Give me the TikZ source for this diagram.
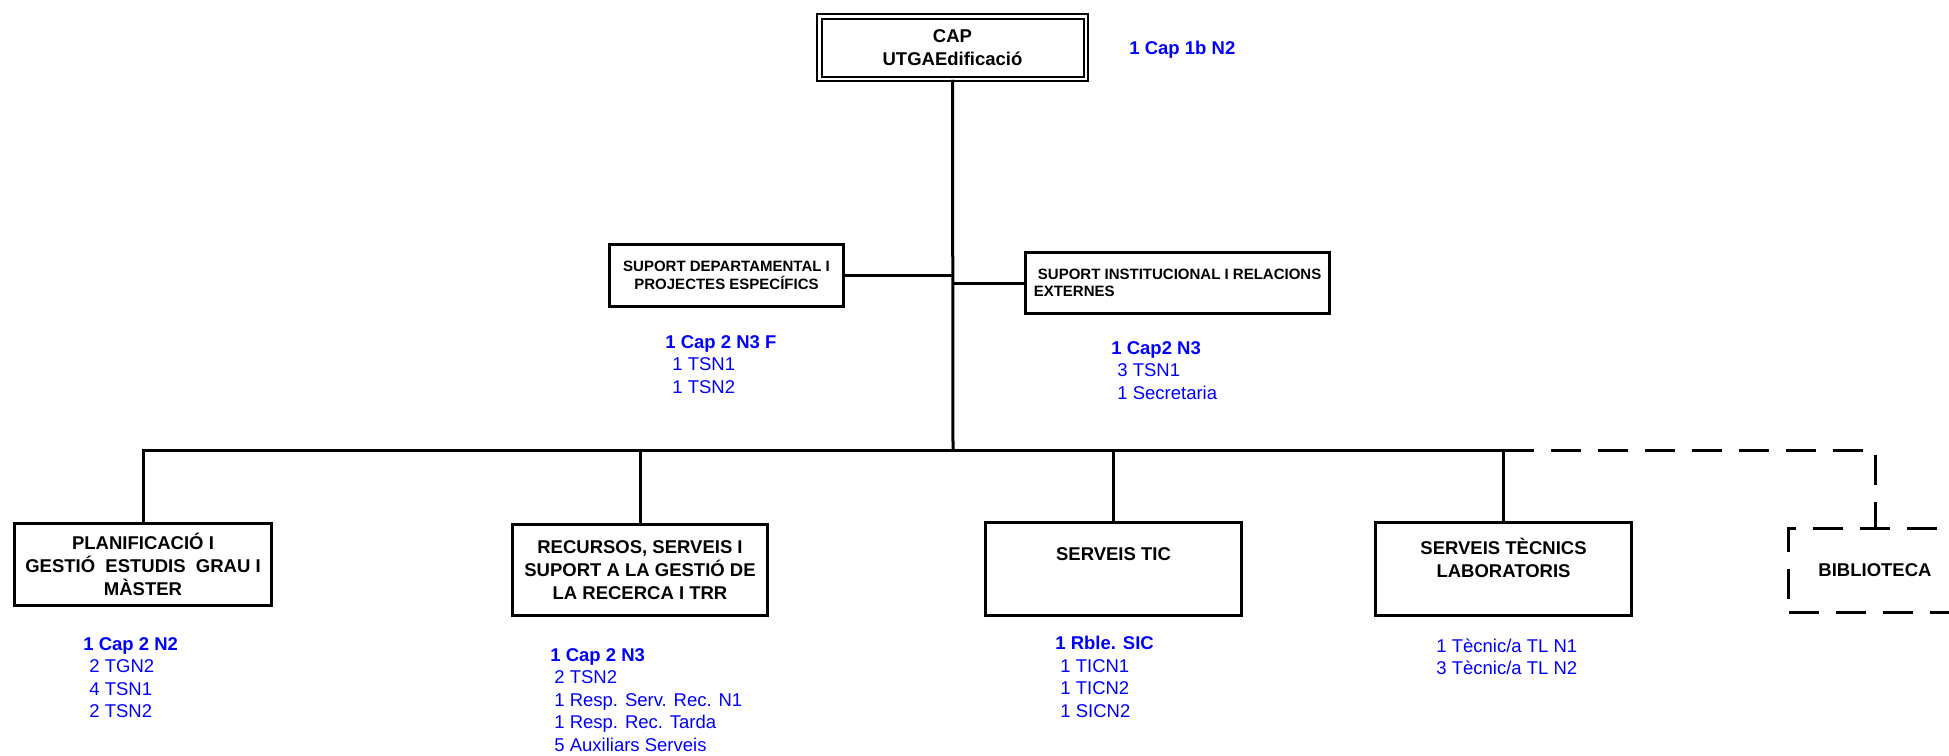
\documentclass[tikz,border=0pt]{standalone}
\usepackage{fontspec}
\setmainfont{Liberation Sans}
\begin{document}
\begin{tikzpicture}[x=0.5pt,y=-0.5pt,
  box/.style={draw, line width=1.5pt, inner sep=2pt, align=center,
    font=\bfseries\fontsize{9.25}{11.5}\selectfont},
  sbox/.style={draw, line width=1.5pt, inner sep=3pt,
    font=\bfseries\fontsize{7.5}{8.75}\selectfont},
  conn/.style={line width=1.5pt},
  blist/.style={anchor=north west, inner sep=0pt, align=left, text=blue,
    font=\fontsize{9.25}{11.25}\selectfont},
  dashline/.style={line width=1.5pt, dash pattern=on 15pt off 8.5pt}]
\clip (0,0) rectangle (1949,755);
\fill[white] (0,0) rectangle (1949,755);

% top
\node[box, double, line width=1pt, double distance=1.25pt,
  minimum width=133.25pt, minimum height=31.25pt] (cap) at (952.5,47.5)
  {CAP\\UTGAEdificació};
\node[blist, font=\bfseries\fontsize{9.25}{11.25}\selectfont] (capl) at (1129,41) {1 Cap 1b N2};

\coordinate (j) at (953,450);

% support boxes
\node[sbox, align=center, minimum width=117pt, minimum height=31pt] (dep) at (726.5,275.5)
  {SUPORT DEPARTAMENTAL I\\PROJECTES ESPECÍFICS};
\node[sbox, align=left, minimum width=152pt, minimum height=30.5pt] (ins) at (1177.5,283)
  {\ SUPORT INSTITUCIONAL I RELACIONS\\EXTERNES};

\node[blist] (depl) at (665,335)
  {\textbf{1 Cap 2 N3 F}\\\hspace{3.5pt}1 TSN1\\\hspace{3.5pt}1 TSN2};
\node[blist] (insl) at (1111,341)
  {\textbf{1 Cap2 N3}\\\hspace{3pt}3 TSN1\\\hspace{3pt}1 Secretaria};

% bottom boxes
\node[box, minimum width=128.5pt, minimum height=41pt] (pla) at (143,564.5)
  {PLANIFICACIÓ I\\GESTIÓ\ \ ESTUDIS\ \ GRAU I\\MÀSTER};
\node[box, minimum width=127.5pt, minimum height=45.5pt] (rec) at (640,570)
  {RECURSOS, SERVEIS I\\SUPORT A LA GESTIÓ DE\\LA RECERCA I TRR};
\node[box, minimum width=128pt, minimum height=46.5pt] (tic) at (1113.5,569)
  {SERVEIS TIC\\[3pt]\mbox{}};
\node[box, minimum width=128pt, minimum height=46.5pt] (tec) at (1503.5,569)
  {SERVEIS TÈCNICS\\LABORATORIS\\\mbox{}};
\node[box, dashline, minimum width=86.5pt, minimum height=42pt] (bib) at (1875,570.5)
  {BIBLIOTECA};

\node[blist] (plal) at (83,637)
  {\textbf{1 Cap 2 N2}\\\hspace{3pt}2 TGN2\\\hspace{3pt}4 TSN1\\\hspace{3pt}2 TSN2};
\node[blist] (recl) at (550,648)
  {\textbf{1 Cap 2 N3}\\\hspace{2pt}2 TSN2\\\hspace{2pt}1 Resp. Serv. Rec. N1\\\hspace{2pt}1 Resp. Rec. Tarda\\\hspace{2pt}5 Auxiliars Serveis};
\node[blist] (ticl) at (1055,636)
  {\textbf{1 Rble. SIC}\\\hspace{2.5pt}1 TICN1\\\hspace{2.5pt}1 TICN2\\\hspace{2.5pt}1 SICN2};
\node[blist] (tecl) at (1436,638)
  {1 Tècnic/a TL N1\\3 Tècnic/a TL N2};

% connectors
\draw[conn] (cap.south) -- (j);
\draw[conn] (dep.east) -- (dep.east -| j);
\draw[conn] (ins.west) -- (ins.west -| j);
\draw[conn] (pla.north) -- (pla.north |- j) -- (tec.north |- j) -- (tec.north);
\draw[conn] (rec.north) -- (rec.north |- j);
\draw[conn] (tic.north) -- (tic.north |- j);
\draw[dashline] (tec.north |- j) -| (bib.north);
\end{tikzpicture}
\end{document}
